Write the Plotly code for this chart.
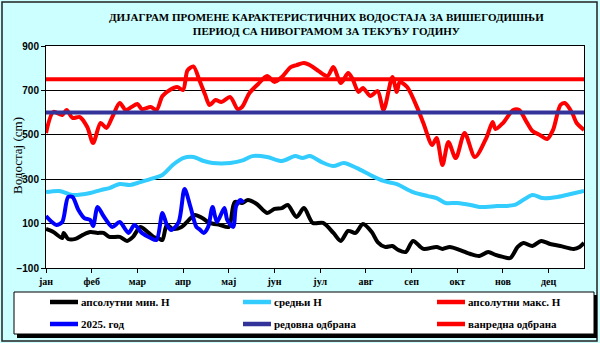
import plotly.graph_objects as go

# Month tick labels (one tick every 31 days of a 365-day axis)
months = ["јан", "феб", "мар", "апр", "мај", "јун", "јул", "авг", "сеп", "окт", "нов", "дец"]
month_ticks = [31 * i for i in range(12)]

# Absolute minimum water level (day of year, cm)
min_days = [0, 5, 11, 12, 15, 20, 25, 30, 35, 39, 43, 50, 55, 59, 64, 69, 73, 77, 79, 82, 86, 92, 96,
            101, 106, 111, 118, 124, 128, 133, 137, 143, 150, 155, 160, 164, 170, 175, 181, 188, 195,
            200, 205, 210, 215, 221, 225, 230, 235, 239, 244, 249, 256, 265, 269, 274, 281, 288, 294,
            300, 305, 310, 315, 320, 324, 330, 336, 342, 349, 358, 362, 365]
min_vals = [76, 62, 35, 58, 31, 31, 49, 62, 58, 58, 40, 40, 22, 40, 85, 62, 40, 31, 26, 94, 76, 85, 110,
            139, 125, 103, 94, 85, 197, 193, 206, 188, 148, 166, 170, 184, 130, 170, 103, 103, 58,
            22, 67, 58, 98, 62, 17, -5, -1, -19, -28, 22, -14, -5, -14, -5, -19, -37, -46,
            -28, -41, -50, -55, -5, 13, -1, 22, 8, -1, -14, -5, 13]

# Mean water level
mean_days = [0, 9, 18, 30, 37, 43, 50, 57, 64, 73, 79, 86, 93, 100, 107, 113, 125, 134, 140, 150, 160,
             169, 174, 179, 187, 195, 202, 211, 220, 229, 238, 249, 259, 265, 271, 279, 288, 294, 306,
             318, 330, 337, 347, 356, 365]
mean_vals = [242, 247, 229, 238, 251, 260, 278, 274, 287, 305, 319, 364, 395, 400, 382, 373, 373, 386, 404,
             400, 382, 404, 395, 404, 377, 359, 373, 350, 319, 292, 278, 242, 224, 215, 193, 193, 184,
             175, 179, 184, 229, 215, 220, 233, 247]

# Absolute maximum water level
max_days = [0, 5, 11, 14, 18, 23, 28, 32, 37, 41, 45, 50, 54, 58, 62, 65, 71, 75, 79, 84, 89, 93, 96,
            100, 104, 108, 111, 115, 119, 125, 130, 133, 138, 144, 150, 155, 160, 166, 170, 175, 180,
            185, 191, 195, 200, 205, 208, 212, 215, 220, 225, 229, 235, 238, 240, 245, 252, 256, 262,
            265, 269, 273, 278, 284, 291, 299, 303, 305, 310, 317, 321, 326, 330, 335, 340, 344, 349,
            352, 357, 360, 365]
max_vals = [508, 603, 589, 612, 576, 580, 535, 463, 553, 531, 580, 643, 612, 625, 639, 616, 625, 612, 675,
            702, 715, 702, 790, 808, 747, 680, 634, 657, 648, 670, 616, 625, 688, 729, 765, 738, 760,
            805, 814, 823, 810, 787, 765, 805, 733, 778, 751, 693, 711, 675, 697, 612, 760, 693, 738,
            715, 620, 553, 454, 486, 364, 468, 395, 508, 400, 490, 558, 526, 553, 612, 612, 558, 517,
            499, 481, 522, 634, 643, 598, 553, 522]

# Current year (2025) hydrograph
cur_days = [0, 4, 7, 11, 15, 18, 22, 26, 30, 32, 35, 39, 45, 50, 56, 60, 65, 71, 75, 79, 82, 85, 90, 94,
            98, 102, 104, 107, 110, 113, 116, 121, 123, 127, 129, 132, 134]
cur_vals = [134, 107, 94, 107, 220, 220, 161, 125, 116, 89, 175, 134, 85, 107, 58, 94, 58, 35, 26, 148,
            94, 71, 107, 256, 175, 85, 75, 58, 85, 175, 107, 170, 116, 85, 179, 206, 193]

# Flood defence thresholds
regular_level = 600
emergency_level = 750
year_span = [0, 365]

SERIF = "Liberation Serif, Times New Roman, serif"
SANS = "Liberation Sans, Arial, sans-serif"

# Pixel-based layout helpers (plot area spans x 46..584, y 46..268)
PL, PR, PT, PB = 46, 584, 46, 268


def fx(px):
    return (px - PL) / (PR - PL)


def fy(py):
    return (PB - py) / (PB - PT)


series = [
    ("апсолутни мин. Н", min_days, min_vals, "#000000"),
    ("средњи Н", mean_days, mean_vals, "#33CCFF"),
    ("апсолутни макс. Н", max_days, max_vals, "#FF0000"),
    ("2025. год", cur_days, cur_vals, "#0000FF"),
]
levels = [
    ("редовна одбрана", regular_level, "#333399"),
    ("ванредна одбрана", emergency_level, "#FF0000"),
]

fig = go.Figure()
for name, xs, ys, col in series:
    fig.add_trace(go.Scatter(x=xs, y=ys, name=name, mode="lines",
                             line=dict(color=col, width=4, shape="spline", smoothing=0.8),
                             showlegend=False, hoverinfo="skip"))
for name, lev, col in levels:
    fig.add_trace(go.Scatter(x=year_span, y=[lev, lev], name=name, mode="lines",
                             line=dict(color=col, width=4), showlegend=False, hoverinfo="skip"))

shapes = []
annotations = []

# Outer chart frame
shapes.append(dict(type="rect", xref="paper", yref="paper", x0=fx(2), x1=fx(597), y0=fy(341), y1=fy(2),
                   line=dict(color="#222222", width=1.5), layer="below"))

# Legend box with drop shadow
shapes.append(dict(type="rect", xref="paper", yref="paper", x0=fx(17), x1=fx(597), y0=fy(338), y1=fy(295),
                   line=dict(width=0), fillcolor="#000000"))
shapes.append(dict(type="rect", xref="paper", yref="paper", x0=fx(14), x1=fx(594), y0=fy(334), y1=fy(292),
                   line=dict(color="#000000", width=1), fillcolor="#FFFFFF"))

legend_items = [(n, c) for n, _, _, c in series[:3]] + [(series[3][0], series[3][3])] + \
               [(n, c) for n, _, c in levels]
col_x = [50, 243, 437]
row_y = [302, 324]
for i, (name, col) in enumerate(legend_items):
    cx = col_x[i % 3]
    ry = row_y[i // 3]
    shapes.append(dict(type="line", xref="paper", yref="paper", x0=fx(cx), x1=fx(cx + 28),
                       y0=fy(ry), y1=fy(ry), line=dict(color=col, width=4.5)))
    annotations.append(dict(xref="paper", yref="paper", x=fx(cx + 29), y=fy(ry), text=name,
                            showarrow=False, xanchor="left", yanchor="middle",
                            font=dict(family=SERIF, size=11, color="#000000", weight="bold")))

# Title
annotations.append(dict(xref="paper", yref="paper", x=fx(326), y=fy(24),
                        text="ДИЈАГРАМ ПРОМЕНЕ КАРАКТЕРИСТИЧНИХ ВОДОСТАЈА ЗА ВИШЕГОДИШЊИ<br>"
                             "ПЕРИОД СА НИВОГРАМОМ ЗА ТЕКУЋУ ГОДИНУ",
                        showarrow=False, xanchor="center", yanchor="middle",
                        font=dict(family=SERIF, size=11, color="#000000", weight="bold")))

# Y axis title
annotations.append(dict(xref="paper", yref="paper", x=fx(17), y=fy(156), text="Водостај (cm)",
                        showarrow=False, textangle=-90, xanchor="center", yanchor="middle",
                        font=dict(family=SERIF, size=13, color="#000000")))

fig.update_layout(
    width=600, height=343,
    margin=dict(l=PL, r=600 - PR, t=PT, b=343 - PB),
    paper_bgcolor="#CCFFFF",
    plot_bgcolor="#FFFFFF",
    shapes=shapes,
    annotations=annotations,
    showlegend=False,
    xaxis=dict(range=[0, 365], tickvals=month_ticks, ticktext=months, ticks="outside", ticklen=4,
               tickcolor="#000000", showgrid=False, zeroline=False, showline=True, linecolor="#000000",
               linewidth=1, mirror=True,
               tickfont=dict(family=SERIF, size=10, color="#000000", weight="bold")),
    yaxis=dict(range=[-100, 900], tickvals=[-100, 100, 300, 500, 700, 900], ticks="outside", ticklen=4,
               tickcolor="#000000", showgrid=True, gridcolor="#000000", gridwidth=1, zeroline=False,
               showline=True, linecolor="#000000", linewidth=1, mirror=True,
               tickfont=dict(family=SANS, size=10, color="#000000", weight="bold")),
)

fig.write_html("out.html")
